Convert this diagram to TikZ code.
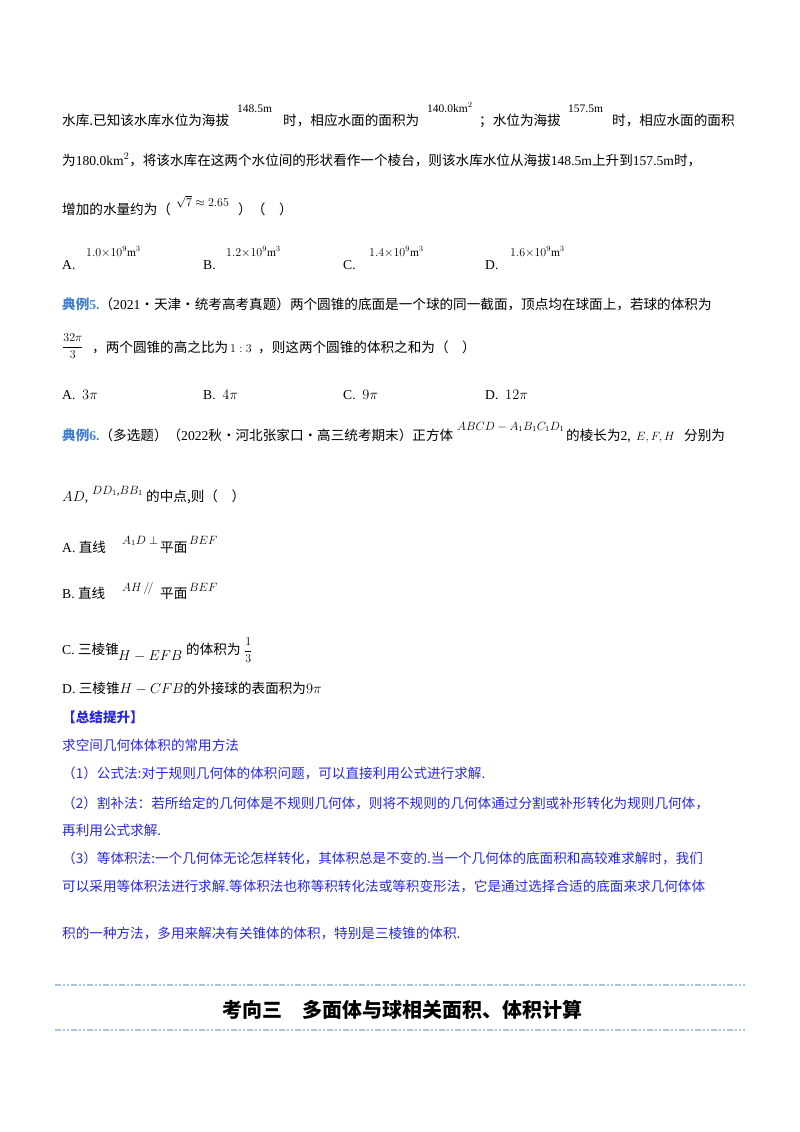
\documentclass[tikz,border=0pt]{standalone}
\usepackage{amsmath}
\usepackage{fontspec}
\setmainfont{Liberation Serif}
\newfontfamily\cjk{Noto Sans CJK SC}
\newcommand{\zh}[1]{{\cjk #1}}
\definecolor{lb}{RGB}{70,130,210}
\definecolor{sb}{RGB}{40,40,220}
\definecolor{dl}{RGB}{170,195,225}
\begin{document}
\begin{tikzpicture}[x=1pt,y=-1pt,
 t/.style={anchor=base west,inner sep=0pt,font=\fontsize{13.6}{16}\selectfont},
 s/.style={anchor=base west,inner sep=0pt,font=\fontsize{11.5}{13}\selectfont},
 dsh/.style={dl,line width=1.6pt,dash pattern=on 6pt off 2pt on 2pt off 2pt on 2pt off 2pt}]
\useasboundingbox (0,0) rectangle (800,1132);
\node[t] (l1) at (62,125) {\zh{水库.已知该水库水位为海拔}};
\node[s] (l1a) at (237,112) {148.5m};
\node[t] (l1b) at (283,125) {\zh{时，相应水面的面积为}};
\node[s] (l1c) at (427,112) {140.0km$^2$};
\node[t] (l1d) at (479,125) {\zh{；水位为海拔}};
\node[s] (l1e) at (568,112) {157.5m};
\node[t] (l1f) at (612,125) {\zh{时，相应水面的面积}};
\node[t] (l2) at (62,165) {\zh{为}180.0km$^2$\zh{，将该水库在这两个水位间的形状看作一个棱台，则该水库水位从海拔}148.5m\zh{上升到}157.5m\zh{时，}};
\node[t] (l3) at (62,214) {\zh{增加的水量约为（}};
\node[s] (l3a) at (176,206) {$\sqrt{7}\approx 2.65$};
\node[t] (l3b) at (238,214) {\zh{）（\quad）}};
\node[t] (oa) at (62,269) {A.};
\node[s] (oa1) at (86,256) {$1.0{\times}10^9$m$^3$};
\node[t] (ob) at (203,269) {B.};
\node[s] (ob1) at (226,256) {$1.2{\times}10^9$m$^3$};
\node[t] (oc) at (343,269) {C.};
\node[s] (oc1) at (369,256) {$1.4{\times}10^9$m$^3$};
\node[t] (od) at (485,269) {D.};
\node[s] (od1) at (510,256) {$1.6{\times}10^9$m$^3$};
\node[t] (e5) at (62,309) {\textcolor{lb}{\bfseries\zh{典例}5.}\zh{（}2021\zh{·天津·统考高考真题）两个圆锥的底面是一个球的同一截面，顶点均在球面上，若球的体积为}};
\node[s] (f5) at (62,350) {$\dfrac{32\pi}{3}$};
\node[t] (e5b) at (92,352) {\zh{，两个圆锥的高之比为}};
\node[s] (e5c) at (230,352) {$1:3$};
\node[t] (e5d) at (258,352) {\zh{，则这两个圆锥的体积之和为（\quad）}};
\node[t] (pa) at (62,399) {A.\ \ $3\pi$};
\node[t] (pb) at (203,399) {B.\ \ $4\pi$};
\node[t] (pc) at (343,399) {C.\ \ $9\pi$};
\node[t] (pd) at (485,399) {D.\ \ $12\pi$};
\node[t] (e6) at (62,440) {\textcolor{lb}{\bfseries\zh{典例}6.}\zh{（多选题）（}2022\zh{秋·河北张家口·高三统考期末）正方体}};
\node[s] (e6a) at (457,430) {$ABCD-A_1B_1C_1D_1$};
\node[t] (e6b) at (566,440) {\zh{的棱长为}2,};
\node[s] (e6c) at (636,440) {$E,F,H$};
\node[t] (e6d) at (684,440) {\zh{分别为}};
\node[t] (e6e) at (62,501) {$AD$,};
\node[s] (e6f) at (92,494) {$DD_1$,$BB_1$};
\node[t] (e6g) at (146,501) {\zh{的中点,则（\quad）}};
\node[t] (qa) at (62,552) {A.\ \zh{直线}};
\node[s] (qa1) at (122,544) {$A_1D\perp$};
\node[t] (qa2) at (160,552) {\zh{平面}};
\node[s] (qa3) at (189,544) {$BEF$};
\node[t] (qb) at (62,598) {B.\ \zh{直线}};
\node[s] (qb1) at (122,591) {$AH\,/\!/$};
\node[t] (qb2) at (160,598) {\zh{平面}};
\node[s] (qb3) at (189,591) {$BEF$};
\node[t] (qc) at (62,654) {C.\ \zh{三棱锥}};
\node[t] (qc1) at (118,660) {$H-EFB$};
\node[t] (qc2) at (186,654) {\zh{的体积为}};
\node[s] (qc3) at (244,654) {$\dfrac{1}{3}$};
\node[t] (qd) at (62,693) {D.\ \zh{三棱锥}$H-CFB$\zh{的外接球的表面积为}$9\pi$};
\node[t] (sm) at (62,722) {\textcolor{sb}{\bfseries\zh{【总结提升】}}};
\begin{scope}[every node/.append style={text=sb}]
\node[t] (s0) at (62,750) {\zh{求空间几何体体积的常用方法}};
\node[t] (s1) at (62,778) {\zh{（1）公式法:对于规则几何体的体积问题，可以直接利用公式进行求解.}};
\node[t] (s2) at (62,808) {\zh{（2）割补法：若所给定的几何体是不规则几何体，则将不规则的几何体通过分割或补形转化为规则几何体，}};
\node[t] (s3) at (62,835) {\zh{再利用公式求解.}};
\node[t] (s4) at (62,863) {\zh{（3）等体积法:一个几何体无论怎样转化，其体积总是不变的.当一个几何体的底面积和高较难求解时，我们}};
\node[t] (s5) at (62,891) {\zh{可以采用等体积法进行求解.等体积法也称等积转化法或等积变形法，它是通过选择合适的底面来求几何体体}};
\node[t] (s6) at (62,938) {\zh{积的一种方法，多用来解决有关锥体的体积，特别是三棱锥的体积.}};
\end{scope}
\coordinate (d1a) at (55,985); \coordinate (d1b) at (745,985);
\coordinate (d2a) at (55,1030); \coordinate (d2b) at (745,1030);
\draw[dsh] (d1a) -- (d1b);
\draw[dsh] (d2a) -- (d2b);
\node[anchor=base,inner sep=0pt,font=\fontsize{20}{22}\selectfont\bfseries] (hd) at (402,1017) {\zh{考向三\quad 多面体与球相关面积、体积计算}};
\end{tikzpicture}
\end{document}
